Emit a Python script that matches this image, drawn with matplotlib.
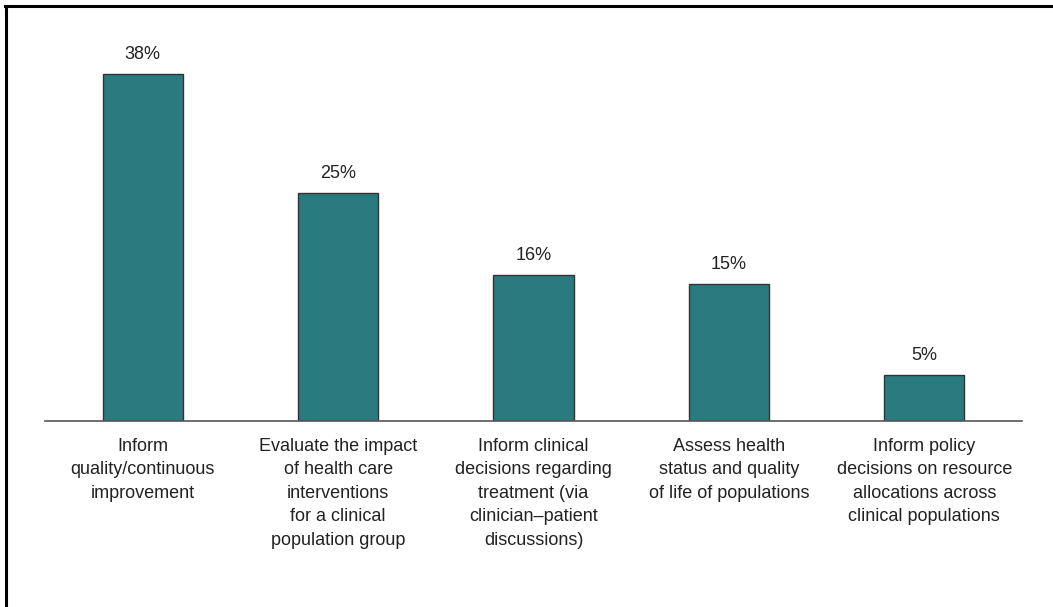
import matplotlib
matplotlib.use("Agg")
import matplotlib.pyplot as plt
from matplotlib.lines import Line2D

categories = [
    "Inform\nquality/continuous\nimprovement",
    "Evaluate the impact\nof health care\ninterventions\nfor a clinical\npopulation group",
    "Inform clinical\ndecisions regarding\ntreatment (via\nclinician\u2013patient\ndiscussions)",
    "Assess health\nstatus and quality\nof life of populations",
    "Inform policy\ndecisions on resource\nallocations across\nclinical populations",
]
values = [38, 25, 16, 15, 5]
value_labels = ["38%", "25%", "16%", "15%", "5%"]

plt.rcParams['font.family'] = ['Liberation Sans', 'DejaVu Sans']

W, H = 1053, 607
fig = plt.figure(figsize=(W/100, H/100), dpi=100)
ax = fig.add_axes([45/W, 1 - 421/H, 977/W, (421 - 56)/H])

x = list(range(len(categories)))
bars = ax.bar(x, values, width=0.41, color="#2a7b80", edgecolor="#333333", linewidth=1.0, zorder=2)
for b, lab in zip(bars, value_labels):
    ax.annotate(lab, (b.get_x() + b.get_width()/2, b.get_height()),
                xytext=(0, 8), textcoords="offset points",
                ha="center", va="bottom", fontsize=13, color="#222222")

ax.set_xlim(-0.5, 4.5)
ax.set_ylim(0, 40)
ax.set_yticks([])
ax.set_xticks(x)
ax.set_xticklabels(categories, fontsize=13, color="#222222", linespacing=1.5)
ax.tick_params(axis="x", length=0, pad=12)
for s in ["top", "right", "left"]:
    ax.spines[s].set_visible(False)
ax.spines["bottom"].set_color("#555555")
ax.spines["bottom"].set_linewidth(1.2)

# Frame: only top and left edges visible in the reference
fig.add_artist(Line2D([6/W, 6/W], [0, 1 - 6/H], transform=fig.transFigure, color="black", linewidth=2.2))
fig.add_artist(Line2D([5/W, 1052/W], [1 - 6/H, 1 - 6/H], transform=fig.transFigure, color="black", linewidth=2.2))

fig.savefig("out.png", dpi=100)
